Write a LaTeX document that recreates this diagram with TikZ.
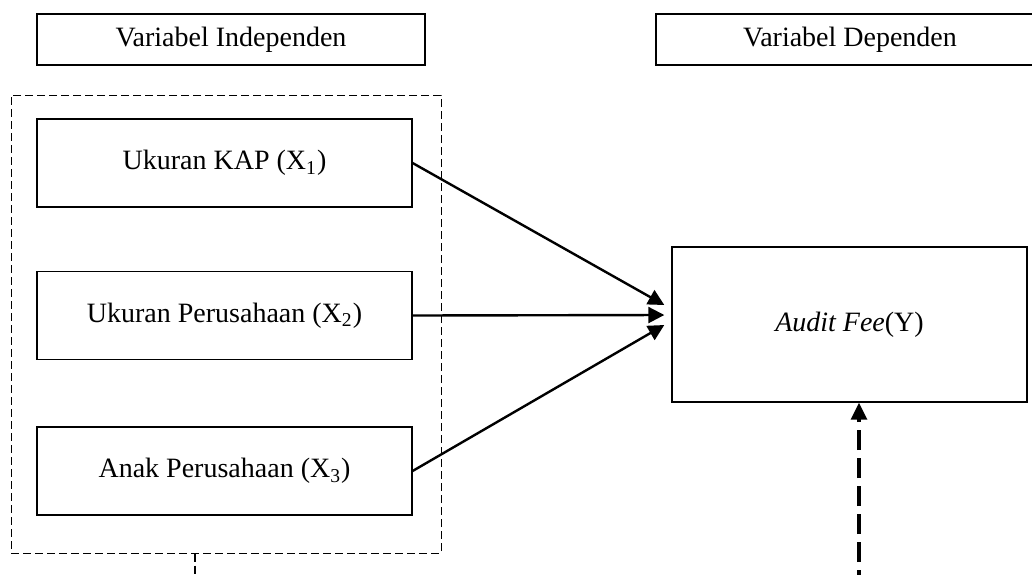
\documentclass[tikz,border=0pt]{standalone}
\usepackage{fontspec}
\setmainfont{Liberation Serif}
\usepackage{tikz}
\usetikzlibrary{arrows.meta}

\tikzset{
  headbox/.style={draw,line width=0.8pt,minimum width=194pt,minimum height=25.5pt,
    inner sep=0pt,font=\fontsize{14}{16}\selectfont},
  varbox/.style={draw,line width=0.6pt,minimum width=187.5pt,minimum height=44pt,
    inner sep=0pt,font=\fontsize{14}{16}\selectfont},
  ybox/.style={draw,line width=0.7pt,minimum width=177.5pt,minimum height=77.5pt,
    inner sep=0pt,font=\fontsize{14}{16}\selectfont},
  groupbox/.style={draw,line width=0.5pt,dash pattern=on 4pt off 2pt,
    minimum width=215pt,minimum height=229pt,inner sep=0pt},
  link/.style={line width=1.2pt,-{Triangle[length=8pt,width=8pt]}},
  dasharrow/.style={line width=1.6pt,dash pattern=on 10pt off 4pt,
    -{Triangle[length=8.5pt,width=8pt]}}
}

\begin{document}
\begin{tikzpicture}[x=0.5pt,y=-0.5pt]
\useasboundingbox (0,0) rectangle (1032,574);

\node[headbox] (indep) at (231,39.5) {Variabel Independen};
\node[headbox] (dep) at (850,39.5) {Variabel Dependen};

\node[groupbox] (group) at (226,324) {};

\node[varbox] (x1) at (224.5,163) {Ukuran KAP (X\textsubscript{1})};
\node[varbox] (x2) at (224.5,315.5) {Ukuran Perusahaan (X\textsubscript{2})};
\node[varbox] (x3) at (224.5,471) {Anak Perusahaan (X\textsubscript{3})};

\node[ybox] (y) at (849.5,324.5) {\textit{Audit Fee}(Y)};

\draw[link] (x1.east) -- ([xshift=-3.5pt,yshift=9.75pt]y.west);
\draw[link] (x2.east) -- ([xshift=-3.5pt,yshift=0.25pt]y.west |- x2.east);
\draw[link] (x3.east) -- ([xshift=-3.5pt,yshift=-0.25pt]y.west);

% lines running off the page
\coordinate (groupend) at (195,590);
\draw[line width=0.6pt,dash pattern=on 4pt off 2pt] (group.south -| groupend) -- (groupend);

\coordinate (yfrom) at (859,590);
\draw[dasharrow] (yfrom) -- (y.south -| yfrom);

\end{tikzpicture}
\end{document}
